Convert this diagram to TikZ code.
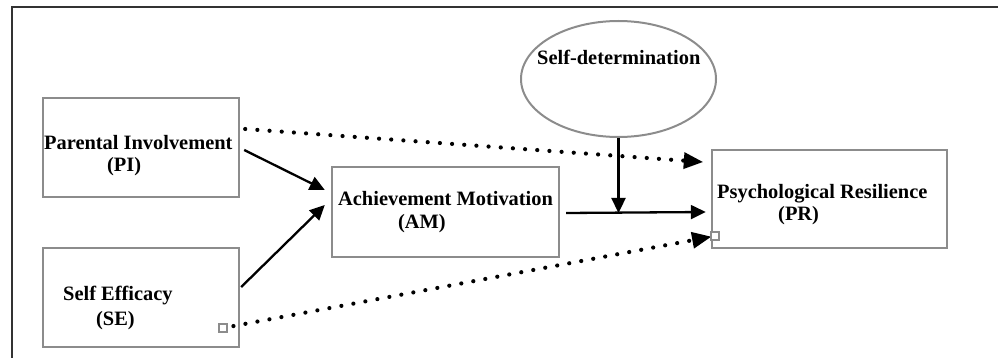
\documentclass[tikz,border=0pt]{standalone}
\usepackage{fontspec}
\setmainfont{Liberation Serif}
\usetikzlibrary{arrows.meta,calc,shapes.geometric}
\definecolor{boxgray}{HTML}{8C8C8C}
\definecolor{framecol}{HTML}{333333}
\begin{document}
\begin{tikzpicture}[x=1pt,y=-1pt,
  box/.style={draw=boxgray,line width=2.4pt,inner sep=0pt},
  lbl/.style={anchor=base west,inner sep=0pt,font=\fontsize{20.4}{24}\selectfont\bfseries},
  sq/.style={draw=boxgray,fill=white,line width=1.1pt,minimum size=8pt,inner sep=0pt},
  solidarrow/.style={line width=2.3pt,-{Triangle[length=15pt,width=14pt]}},
  dotarrow/.style={line width=4.2pt,line cap=round,dash pattern=on 0pt off 12.2pt,-{Triangle[length=19pt,width=17pt,line width=0pt]}}
]
\useasboundingbox (0,0) rectangle (998,358);
% page frame
\draw[framecol,line width=1.6pt] (12,358) -- (12,7) -- (998,7);

% boxes
\node[box,minimum width=196pt,minimum height=99pt] (PI) at (141,147.5) {};
\node[box,minimum width=196pt,minimum height=99pt] (SE) at (141,297.5) {};
\node[box,minimum width=227pt,minimum height=90pt] (AM) at (445.5,212) {};
\node[box,minimum width=235pt,minimum height=98pt] (PR) at (829.5,199) {};
\node[draw=boxgray,line width=2pt,ellipse,minimum width=195pt,minimum height=116pt,inner sep=0pt] (SD) at (618.5,79) {};

% texts
\node[lbl] (tPI1) at (44,150) {Parental Involvement};
\node[lbl] (tPI2) at (107,172) {(PI)};
\node[lbl] (tSE1) at (63,300) {Self Efficacy};
\node[lbl] (tSE2) at (96,325) {(SE)};
\node[lbl] (tAM1) at (338,206) {Achievement Motivation};
\node[lbl] (tAM2) at (398,228) {(AM)};
\node[lbl] (tPR1) at (717,198) {Psychological Resilience};
\node[lbl] (tPR2) at (778,221) {(PR)};
\node[lbl] (tSD) at (537,65) {Self-determination};

% dotted connectors
\node[sq] (sqA) at (223,328) {};
\coordinate (PIdot) at ($(PI.east)+(5,-18.5)$);
\coordinate (PRdot) at ($(PR.west)+(-8,-37)$);
\draw[dotarrow] (PIdot) -- (PRdot);
\coordinate (sqBc) at (715,236);
\draw[dotarrow,shorten <=6pt,shorten >=4pt] (sqA) -- (sqBc);
\node[sq] (sqB) at (sqBc) {};

% solid connectors
\coordinate (PIout) at ($(PI.east)+(4,2.5)$);
\coordinate (AMin1) at ($(AM.west)+(-6,-22)$);
\coordinate (SEout) at ($(SE.east)+(1,-10.5)$);
\coordinate (AMin2) at ($(AM.west)+(-6,-7)$);
\coordinate (AMout) at ($(AM.east)+(6,1)$);
\coordinate (PRin) at ($(PR.west)+(-5,13)$);
\coordinate (J) at (SD.south |- AMout);
\draw[solidarrow] (PIout) -- (AMin1);
\draw[solidarrow] (SEout) -- (AMin2);
\draw[solidarrow] (AMout) -- (PRin);
\draw[solidarrow] (SD.south) -- (J);
\end{tikzpicture}
\end{document}
